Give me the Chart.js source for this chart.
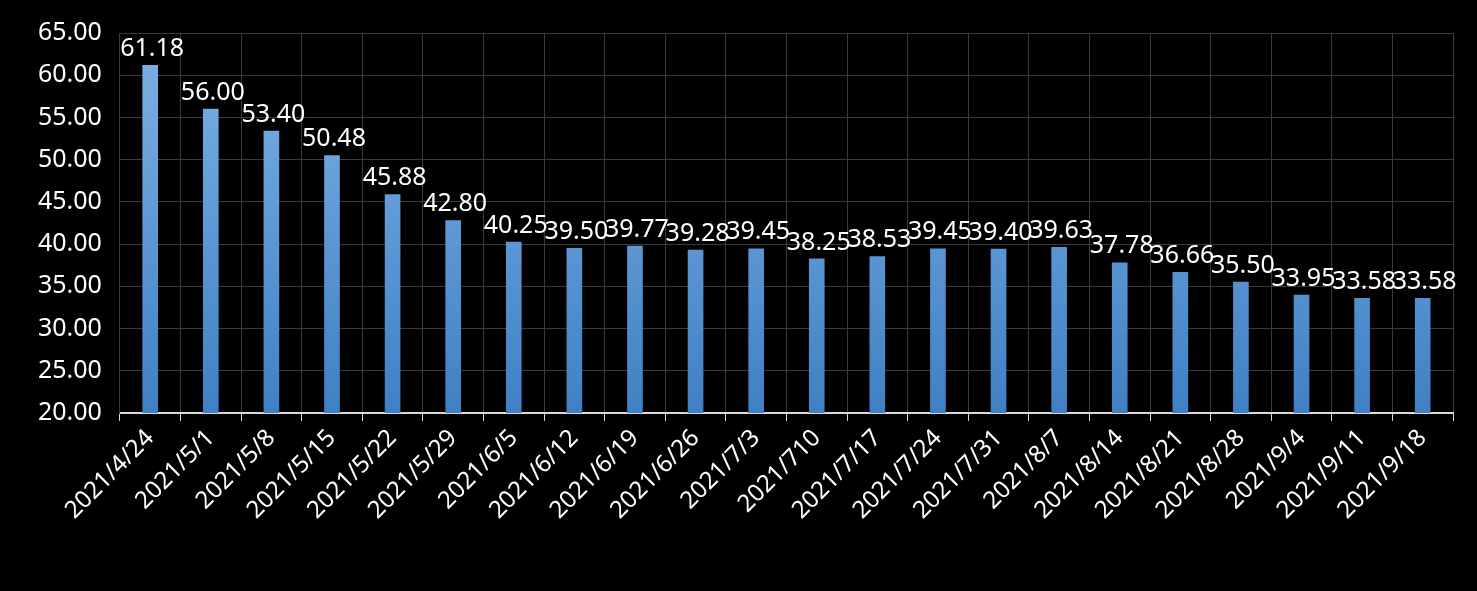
<!DOCTYPE html>
<html>
<head>
<meta charset="utf-8">
<script src="https://cdn.jsdelivr.net/npm/chart.js@4/dist/chart.umd.min.js"></script>
<style>
  html, body { margin: 0; padding: 0; background: #000; }
  #wrap { width: 1477px; height: 591px; }
</style>
</head>
<body>
<div id="wrap"><canvas id="c"></canvas></div>
<script>
const categories = ['2021/4/24', '2021/5/1', '2021/5/8', '2021/5/15', '2021/5/22', '2021/5/29',
  '2021/6/5', '2021/6/12', '2021/6/19', '2021/6/26', '2021/7/3', '2021/710', '2021/7/17',
  '2021/7/24', '2021/7/31', '2021/8/7', '2021/8/14', '2021/8/21', '2021/8/28', '2021/9/4',
  '2021/9/11', '2021/9/18'];
const values = [61.18, 56.00, 53.40, 50.48, 45.88, 42.80, 40.25, 39.50, 39.77, 39.28, 39.45,
  38.25, 38.53, 39.45, 39.40, 39.63, 37.78, 36.66, 35.50, 33.95, 33.58, 33.58];
const yTicks = [20, 25, 30, 35, 40, 45, 50, 55, 60, 65];

const FONT = "'Noto Sans', 'DejaVu Sans', sans-serif";

// value labels above each bar
const barLabels = {
  id: 'barLabels',
  afterDatasetsDraw(chart) {
    const ctx = chart.ctx;
    const meta = chart.getDatasetMeta(0);
    ctx.save();
    ctx.fillStyle = '#ffffff';
    ctx.font = '25px ' + FONT;
    ctx.textAlign = 'center';
    ctx.textBaseline = 'bottom';
    meta.data.forEach((bar, i) => {
      ctx.fillText(values[i].toFixed(2), bar.x + 2, bar.y - 4);
    });
    ctx.restore();
  }
};

new Chart(document.getElementById('c'), {
  type: 'bar',
  data: {
    labels: categories,
    datasets: [{
      data: values,
      barThickness: 15,
      backgroundColor(context) {
        const area = context.chart.chartArea;
        if (!area) return '#5b9bd5';
        const g = context.chart.ctx.createLinearGradient(0, area.top, 0, area.bottom);
        g.addColorStop(0, '#7fb2e5');
        g.addColorStop(1, '#3f80c4');
        return g;
      }
    }]
  },
  options: {
    responsive: true,
    maintainAspectRatio: false,
    animation: false,
    layout: { padding: { top: 17, right: 24, left: 20, bottom: 0 } },
    plugins: { legend: { display: false }, tooltip: { enabled: false } },
    scales: {
      x: {
        afterFit(axis) { axis.height = 178; },
        grid: { color: '#3a3a3a', offset: true, tickLength: 8, tickColor: '#d9d9d9' },
        border: { color: '#d9d9d9', width: 2 },
        ticks: {
          color: '#ffffff',
          font: { size: 24, family: FONT },
          maxRotation: 45, minRotation: 45,
          autoSkip: false
        }
      },
      y: {
        min: 20, max: 65,
        afterBuildTicks(axis) { axis.ticks = yTicks.map(v => ({ value: v })); },
        grid: { color: '#3a3a3a', drawTicks: false },
        border: { color: '#3a3a3a' },
        ticks: {
          color: '#ffffff',
          padding: 18,
          font: { size: 25, family: FONT },
          callback: v => v.toFixed(2)
        }
      }
    }
  },
  plugins: [barLabels]
});
</script>
</body>
</html>
